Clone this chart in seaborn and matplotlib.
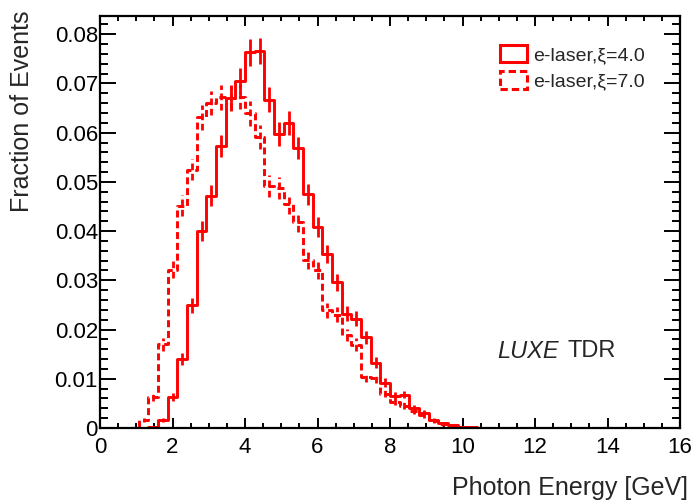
import numpy as np
import pandas as pd
import matplotlib
matplotlib.use("Agg")
import matplotlib.pyplot as plt
import seaborn as sns
from matplotlib.patches import Patch
from matplotlib.ticker import MultipleLocator, FuncFormatter

# ---------------- data ----------------
n_bins = 60            # 60 bins over 0-16 GeV
e_min, e_max = 0.0, 16.0
first_bin = 3          # index of the first listed bin

series_labels = ["e-laser,\u03be=4.0", "e-laser,\u03be=7.0"]

# fraction of events per bin, bins 3 ... 40
frac_xi4 = [0.0, 0.0, 0.0002, 0.0017, 0.0063, 0.0141, 0.0249, 0.0400, 0.0472,
            0.0573, 0.0670, 0.0705, 0.0763, 0.0766, 0.0667, 0.0597, 0.0619,
            0.0569, 0.0475, 0.0409, 0.0354, 0.0296, 0.0232, 0.0222, 0.0184,
            0.0133, 0.0092, 0.0066, 0.0068, 0.0040, 0.0031, 0.0016, 0.0010,
            0.0006, 0.0003, 0.0002, 0.0001, 0.0]
err_xi4 = [0.0, 0.0, 0.0001, 0.0004, 0.0008, 0.0012, 0.0015, 0.0020, 0.0021,
           0.0023, 0.0025, 0.0026, 0.0027, 0.0027, 0.0025, 0.0024, 0.0024,
           0.0023, 0.0021, 0.0020, 0.0018, 0.0017, 0.0015, 0.0015, 0.0013,
           0.0011, 0.0009, 0.0008, 0.0008, 0.0006, 0.0005, 0.0004, 0.0003,
           0.0002, 0.0002, 0.0001, 0.0001, 0.0]

frac_xi7 = [0.0001, 0.0017, 0.0063, 0.0170, 0.0322, 0.0452, 0.0525, 0.0631,
            0.0660, 0.0672, 0.0671, 0.0673, 0.0639, 0.0591, 0.0491, 0.0488,
            0.0455, 0.0418, 0.0342, 0.0320, 0.0239, 0.0230, 0.0189, 0.0169,
            0.0103, 0.0101, 0.0070, 0.0053, 0.0045, 0.0034, 0.0026, 0.0014,
            0.0008, 0.0005, 0.0003, 0.0002, 0.0001, 0.0]
err_xi7 = [0.0001, 0.0004, 0.0008, 0.0013, 0.0018, 0.0021, 0.0022, 0.0025,
           0.0025, 0.0025, 0.0025, 0.0025, 0.0025, 0.0024, 0.0022, 0.0022,
           0.0021, 0.0020, 0.0018, 0.0017, 0.0015, 0.0015, 0.0013, 0.0013,
           0.0010, 0.0010, 0.0008, 0.0007, 0.0007, 0.0006, 0.0005, 0.0004,
           0.0003, 0.0002, 0.0002, 0.0001, 0.0001, 0.0]

x_ticks = [0, 2, 4, 6, 8, 10, 12, 14, 16]
y_ticks = [0.0, 0.01, 0.02, 0.03, 0.04, 0.05, 0.06, 0.07, 0.08]

# ---------------- style ----------------
sns.set_theme(style="ticks")
plt.rcParams["font.family"] = ["Liberation Sans", "DejaVu Sans"]
plt.rcParams["axes.linewidth"] = 1.6

RED = "#ff0000"
DASH = (0, (2.4, 1.3))

width = (e_max - e_min) / n_bins
n_listed = len(frac_xi4)
edges = e_min + (first_bin + np.arange(n_listed + 1)) * width
centers = 0.5 * (edges[:-1] + edges[1:])
bin_edges = [float(v) for v in edges]

df = pd.DataFrame({
    "energy": np.concatenate([centers, centers]),
    "fraction": np.concatenate([frac_xi4, frac_xi7]),
    "error": np.concatenate([err_xi4, err_xi7]),
    "series": [series_labels[0]] * n_listed + [series_labels[1]] * n_listed,
})

fig = plt.figure(figsize=(6.95, 5.01), dpi=100)
ax = fig.add_axes([100 / 695, 1 - 428 / 501, 580 / 695, 412 / 501])

styles = {series_labels[0]: "-", series_labels[1]: DASH}
for lab in series_labels:
    sub = df[df["series"] == lab]
    sns.histplot(data=sub, x="energy", weights="fraction", bins=bin_edges,
                 element="step", fill=False, color=RED, linewidth=2.1,
                 linestyle=styles[lab], ax=ax)
    eb = ax.errorbar(sub["energy"], sub["fraction"], yerr=sub["error"],
                     fmt="none", ecolor=RED, elinewidth=2.0, capsize=0)
    eb[2][0].set_linestyle(styles[lab])

ax.set_xlim(e_min, e_max)
ax.set_ylim(0, 0.0837)
ax.set_xticks(x_ticks)
ax.set_yticks(y_ticks)
ax.xaxis.set_minor_locator(MultipleLocator(0.5))
ax.yaxis.set_minor_locator(MultipleLocator(0.002))
ax.yaxis.set_major_formatter(FuncFormatter(lambda v, p: "0" if abs(v) < 1e-9 else f"{v:.2f}"))
ax.xaxis.set_major_formatter(FuncFormatter(lambda v, p: f"{v:.0f}"))

ax.tick_params(axis="both", which="both", direction="in", top=True, right=True,
               colors="black", labelsize=16, width=1.4)
ax.tick_params(axis="x", which="major", length=7.2, pad=6.5)
ax.tick_params(axis="x", which="minor", length=3.6)
ax.tick_params(axis="y", which="major", length=11.5, pad=1.5)
ax.tick_params(axis="y", which="minor", length=5.8)
for s in ax.spines.values():
    s.set_color("black")
    s.set_linewidth(1.6)

ax.set_xlabel("Photon Energy [GeV]", fontsize=18, ha="right", va="center")
ax.xaxis.set_label_coords((688 - 100) / 580, (428 - 488) / 412)
ax.set_ylabel("Fraction of Events", fontsize=18, ha="right", va="center")
ax.yaxis.set_label_coords((22 - 100) / 580, (428 - 10) / 412)

handles = [Patch(facecolor="none", edgecolor=RED, linewidth=2.2, label=series_labels[0]),
           Patch(facecolor="none", edgecolor=RED, linewidth=2.2, linestyle=DASH,
                 label=series_labels[1])]
ax.legend(handles=handles, loc="upper left", bbox_to_anchor=(500 / 695, 1 - 45 / 501),
          bbox_transform=fig.transFigure, frameon=False, borderpad=0, borderaxespad=0,
          handlelength=1.4, handleheight=1.0, handletextpad=0.3, labelspacing=0.35,
          fontsize=14)

fig.text(497 / 695, 1 - 351 / 501, "LUXE", fontsize=17, style="italic",
         ha="left", va="center")
fig.text(567 / 695, 1 - 351 / 501, "TDR", fontsize=17, ha="left", va="center")

fig.savefig("out.png", dpi=100)
